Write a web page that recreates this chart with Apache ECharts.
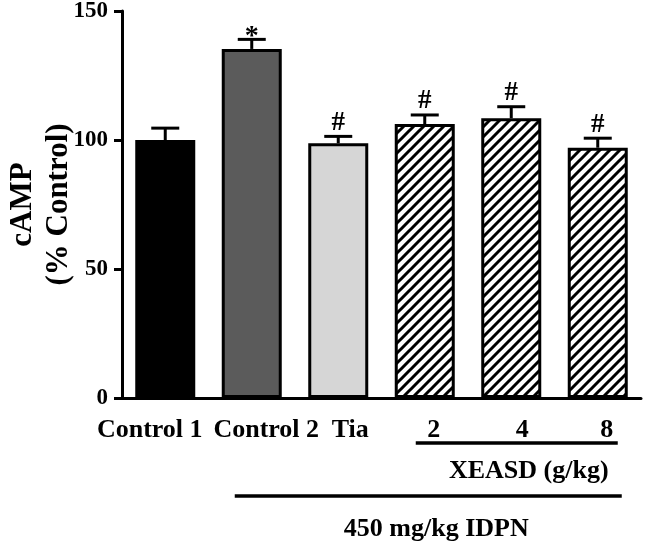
<!DOCTYPE html>
<html><head><meta charset="utf-8">
<script src="https://cdn.jsdelivr.net/npm/echarts@6/dist/echarts.min.js"></script>
<style>html,body{margin:0;padding:0;background:#fff}#c{width:647px;height:546px}</style>
</head><body><div id="c"></div>
<script>
var categories = ['Control 1', 'Control 2', 'Tia', '2', '4', '8'];
var means = [100, 135.3, 98.7, 106.2, 108.4, 97];
var upper = [104.6, 139, 101.4, 109.7, 112.9, 100.7];
var marks = ['', '*', '#', '#', '#', '#'];
var yTicks = [0, 50, 100, 150];
var yTitle = 'cAMP\n(% Control)';
var groupLabel1 = 'XEASD (g/kg)';
var groupLabel2 = '450 mg/kg IDPN';

var FONT = '"Liberation Serif", "Times New Roman", serif';

function hatch() {
  var c = document.createElement('canvas');
  c.width = 10; c.height = 10;
  var g = c.getContext('2d');
  g.fillStyle = '#fff'; g.fillRect(0, 0, 10, 10);
  g.strokeStyle = '#000'; g.lineWidth = 3;
  g.beginPath();
  g.moveTo(-5, 15); g.lineTo(15, -5);
  g.moveTo(-15, 15); g.lineTo(5, -5);
  g.moveTo(5, 15); g.lineTo(25, -5);
  g.stroke();
  return c;
}
var hatchPattern = { image: hatch(), repeat: 'repeat' };
var fills = ['#000000', '#5b5b5b', '#d6d6d6', hatchPattern, hatchPattern, hatchPattern];

var chart = echarts.init(document.getElementById('c'), null, { renderer: 'canvas' });

var barData = means.map(function (v, i) {
  return { value: v, itemStyle: { color: fills[i] } };
});
var errData = means.map(function (v, i) { return [i, v, upper[i], marks[i]]; });

function lbl(pad) {
  return { fontFamily: FONT, fontWeight: 'bold', fontSize: 26, color: '#000', padding: pad };
}
var labelRich = {
  s0: lbl([0, 31, 0, 0]),
  s1: lbl([0, 0, 0, 29]),
  s2: lbl([0, 0, 0, 24]),
  s3: lbl([0, 0, 0, 18]),
  s4: lbl([0, 0, 0, 22]),
  s5: lbl([0, 0, 0, 18])
};

chart.setOption({
  animation: false,
  backgroundColor: '#fff',
  grid: { left: 122, right: 6, top: 11, bottom: 148, containLabel: false, outerBoundsMode: 'none' },
  xAxis: {
    type: 'category',
    data: categories,
    axisLine: { lineStyle: { color: '#000', width: 3 } },
    axisTick: { alignWithLabel: true, length: 7, lineStyle: { color: '#000', width: 3 } },
    axisLabel: {
      margin: 19,
      interval: 0,
      formatter: function (v, i) { return '{s' + i + '|' + v + '}'; },
      rich: labelRich
    }
  },
  yAxis: {
    type: 'value',
    min: 0, max: 150, interval: 50,
    splitLine: { show: false },
    axisLine: { show: true, lineStyle: { color: '#000', width: 3 } },
    axisTick: { show: true, length: 8, lineStyle: { color: '#000', width: 3 } },
    axisLabel: {
      margin: 14,
      fontFamily: FONT, fontWeight: 'bold', fontSize: 23, color: '#000',
      formatter: function (v) { return yTicks.indexOf(v) >= 0 ? String(v) : ''; }
    }
  },
  series: [
    {
      type: 'bar',
      data: barData,
      barWidth: 60,
      itemStyle: { borderColor: '#000', borderWidth: 3 },
      z: 2
    },
    {
      type: 'custom',
      data: errData,
      z: 1,
      renderItem: function (params, api) {
        var base = api.coord([api.value(0), api.value(1)]);
        var top = api.coord([api.value(0), api.value(2)]);
        var x = base[0];
        var mark = marks[params.dataIndex];
        var children = [
          { type: 'line', shape: { x1: x, y1: base[1], x2: x, y2: top[1] }, style: { stroke: '#000', lineWidth: 3 } },
          { type: 'line', shape: { x1: x - 14, y1: top[1], x2: x + 14, y2: top[1] }, style: { stroke: '#000', lineWidth: 3 } }
        ];
        if (mark) {
          var star = mark === '*';
          children.push({
            type: 'text',
            style: {
              text: mark, x: x, y: top[1] + (star ? 11 : 0),
              textAlign: 'center', textVerticalAlign: 'bottom',
              font: 'bold ' + (star ? 28 : 27) + 'px ' + FONT, fill: '#000'
            }
          });
        }
        return { type: 'group', children: children };
      }
    }
  ]
});

function drawBrackets() {
  var p2 = chart.convertToPixel({ xAxisIndex: 0 }, 3);
  var p8 = chart.convertToPixel({ xAxisIndex: 0 }, 5);
  var p1 = chart.convertToPixel({ xAxisIndex: 0 }, 1);
  var y0 = chart.convertToPixel({ yAxisIndex: 0 }, 0);
  var yTop = chart.convertToPixel({ yAxisIndex: 0 }, 150);
  var aL = p2 - 9, aR = p8 + 20;
  var bL = p1 - 17, bR = p8 + 24;
  chart.setOption({
    graphic: [
      { type: 'text', x: 41, y: (y0 + yTop) / 2, rotation: Math.PI / 2,
        style: { text: yTitle, textAlign: 'center', textVerticalAlign: 'middle', font: 'bold 31px ' + FONT, lineHeight: 36, fill: '#000' } },
      { type: 'line', shape: { x1: aL, y1: y0 + 45, x2: aR, y2: y0 + 45 }, style: { stroke: '#000', lineWidth: 3.5 } },
      { type: 'text', x: (aL + aR) / 2 + 12, y: y0 + 73, style: { text: groupLabel1, textAlign: 'center', textVerticalAlign: 'middle', font: 'bold 26px ' + FONT, fill: '#000' } },
      { type: 'line', shape: { x1: bL, y1: y0 + 98, x2: bR, y2: y0 + 98 }, style: { stroke: '#000', lineWidth: 3.5 } },
      { type: 'text', x: (bL + bR) / 2 + 8, y: y0 + 131, style: { text: groupLabel2, textAlign: 'center', textVerticalAlign: 'middle', font: 'bold 26px ' + FONT, fill: '#000' } }
    ]
  });
}
drawBrackets();
</script>
</body></html>
